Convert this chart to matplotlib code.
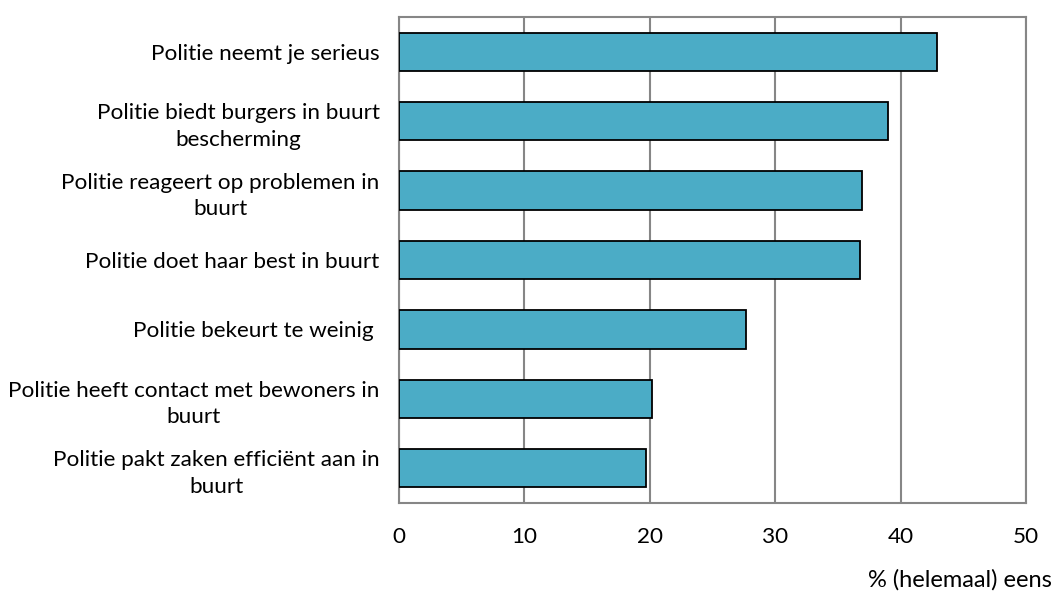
import matplotlib
matplotlib.use("Agg")
import matplotlib.pyplot as plt

categories = [
    "Politie neemt je serieus",
    "Politie biedt burgers in buurt\nbescherming",
    "Politie reageert op problemen in\nbuurt",
    "Politie doet haar best in buurt",
    "Politie bekeurt te weinig ",
    "Politie heeft contact met bewoners in\nbuurt",
    "Politie pakt zaken efficiënt aan in\nbuurt",
]
values = [42.9, 39.0, 36.9, 36.8, 27.7, 20.2, 19.7]
xticks = [0, 10, 20, 30, 40, 50]
xlabel = "% (helemaal) eens"

plt.rcParams['font.family'] = ['Lato', 'DejaVu Sans']
FS = 16.2

fig = plt.figure(figsize=(10.54, 5.97), dpi=100)
ax = fig.add_axes([399/1054, (597-503)/597, (1026-399)/1054, (503-17)/597])

y = list(range(len(categories)))
ax.barh(y, values, height=0.55, color="#4bacc6", edgecolor="black", linewidth=1.3, zorder=3)

ax.set_xlim(0, 50)
ax.set_ylim(len(categories) - 0.5, -0.5)
ax.set_xticks(xticks)
ax.set_xticklabels([str(t) for t in xticks], fontsize=FS)
ax.set_yticks(y)
ax.set_yticklabels(categories, fontsize=FS, multialignment="center", linespacing=1.4)
ax.tick_params(axis='both', length=0)
ax.tick_params(axis='x', pad=17)
ax.tick_params(axis='y', pad=14)

ax.grid(axis='x', color="#868686", linewidth=1.5, zorder=0)
for s in ax.spines.values():
    s.set_color("#868686")
    s.set_linewidth(1.5)

fig.text(1052/1054, 1 - 580/597, xlabel, ha='right', va='center', fontsize=FS + 0.8)

fig.savefig("out.png", dpi=100)
